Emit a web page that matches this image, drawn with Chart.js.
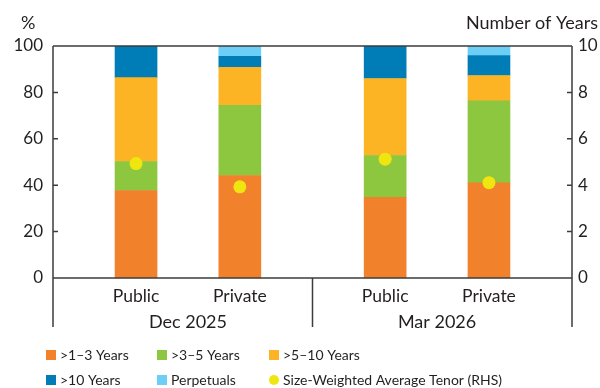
<!DOCTYPE html>
<html>
<head>
<meta charset="utf-8">
<script src="https://cdn.jsdelivr.net/npm/chart.js@4.4.1/dist/chart.umd.min.js"></script>
<style>
  html, body { margin: 0; padding: 0; background: #fff; }
  #wrap { position: relative; width: 600px; height: 388px; }
</style>
</head>
<body>
<div id="wrap"><canvas id="chart" width="600" height="388"></canvas></div>
<script>
// Bond tenor composition by sector, shares in percent
const sectors = ['Public', 'Private', 'Public', 'Private'];
const periods = ['Dec 2025', 'Mar 2026'];
const tenor1to3 = [37.7, 44.2, 34.8, 41.0];
const tenor3to5 = [12.5, 30.2, 18.0, 35.4];
const tenor5to10 = [36.2, 16.4, 33.2, 10.9];
const tenor10plus = [13.6, 4.7, 14.0, 8.6];
const perpetuals = [0, 4.5, 0, 4.1];
// Size-weighted average tenor, in years (right axis)
const avgTenor = [4.93, 3.93, 5.12, 4.11];
const leftTicks = [0, 20, 40, 60, 80, 100];
const rightTicks = [0, 2, 4, 6, 8, 10];

const FONT = 'Lato, "Noto Sans", sans-serif';
const TEXT = '#231f20';
const AXIS = '#3c3c3c';

// Each period occupies one unit on the x scale; its two bars sit 0.4 apart,
// nudged slightly toward the divider between periods.
const PAIR_GAP = 0.4;
const NUDGE = 0.02;
const pairCentre = p => p + 0.5 + (p === 0 ? NUDGE : -NUDGE);
const xOf = i => pairCentre(Math.floor(i / 2)) + (i % 2 === 0 ? -PAIR_GAP / 2 : PAIR_GAP / 2);
const pts = arr => arr.map((v, i) => ({ x: xOf(i), y: v }));

const barSet = (label, values, color) => ({
  type: 'bar', label, data: pts(values), backgroundColor: color,
  barThickness: 42, borderWidth: 0, yAxisID: 'y', order: 1
});

const framePlugin = {
  id: 'frame',
  afterDatasetsDraw(chart) {
    const { ctx, chartArea: a, scales } = chart;
    const yL = scales.y, yR = scales.y2, x = scales.x;
    const lowest = a.bottom + 49;
    ctx.save();
    ctx.strokeStyle = AXIS;
    ctx.lineWidth = 1.5;
    ctx.beginPath();
    // plot box top and baseline
    ctx.moveTo(a.left, a.top); ctx.lineTo(a.right, a.top);
    ctx.moveTo(a.left, a.bottom); ctx.lineTo(a.right, a.bottom);
    // side axes run down past the category labels
    ctx.moveTo(a.left, a.top); ctx.lineTo(a.left, lowest);
    ctx.moveTo(a.right, a.top); ctx.lineTo(a.right, lowest);
    // divider between periods
    const div = x.getPixelForValue(1);
    ctx.moveTo(div, a.bottom); ctx.lineTo(div, lowest);
    // inward tick marks
    leftTicks.forEach(v => {
      const py = yL.getPixelForValue(v);
      ctx.moveTo(a.left, py); ctx.lineTo(a.left + 5, py);
    });
    rightTicks.forEach(v => {
      const py = yR.getPixelForValue(v);
      ctx.moveTo(a.right, py); ctx.lineTo(a.right - 5, py);
    });
    ctx.stroke();

    // period labels
    ctx.fillStyle = TEXT;
    ctx.font = '18px ' + FONT;
    ctx.textAlign = 'center';
    ctx.textBaseline = 'middle';
    periods.forEach((p, i) => {
      ctx.fillText(p, x.getPixelForValue(pairCentre(i)), a.bottom + 44);
    });

    // axis titles
    ctx.textAlign = 'left';
    ctx.fillText('%', 21, 23);
    ctx.textAlign = 'right';
    ctx.fillText('Number of Years', 598, 23);

    // legend in three columns
    const cols = [46, 157, 269];
    const rows = [355, 380];
    ctx.font = '14px ' + FONT;
    ctx.textAlign = 'left';
    chart.data.datasets.forEach((ds, i) => {
      const cx = cols[i % 3], cy = rows[Math.floor(i / 3)];
      ctx.fillStyle = ds.backgroundColor;
      if (ds.type === 'bar') {
        ctx.fillRect(cx, cy - 5, 10, 10);
      } else {
        ctx.beginPath();
        ctx.arc(cx + 5, cy, 5, 0, Math.PI * 2);
        ctx.fill();
      }
      ctx.fillStyle = TEXT;
      ctx.fillText(ds.label, cx + 14, cy);
    });
    ctx.restore();
  }
};

new Chart(document.getElementById('chart'), {
  type: 'bar',
  data: {
    datasets: [
      barSet('>1–3 Years', tenor1to3, '#f2812b'),
      barSet('>3–5 Years', tenor3to5, '#8dc63f'),
      barSet('>5–10 Years', tenor5to10, '#fcb424'),
      barSet('>10 Years', tenor10plus, '#007cb7'),
      barSet('Perpetuals', perpetuals, '#6dcff6'),
      {
        type: 'scatter', label: 'Size-Weighted Average Tenor (RHS)',
        data: pts(avgTenor), yAxisID: 'y2', order: 0,
        backgroundColor: '#f0e60f', borderWidth: 0,
        pointRadius: 6.5, pointHoverRadius: 6.5
      }
    ]
  },
  options: {
    responsive: false,
    animation: false,
    events: [],
    layout: { padding: { top: 46, left: 0, right: 0, bottom: 0 } },
    plugins: { legend: { display: false }, tooltip: { enabled: false } },
    scales: {
      x: {
        type: 'linear', min: 0, max: 2, stacked: true, offset: false,
        grid: { display: false, drawTicks: false, offset: false },
        border: { display: false },
        afterBuildTicks: s => { s.ticks = sectors.map((_, i) => ({ value: xOf(i) })); },
        ticks: {
          autoSkip: false, maxRotation: 0, padding: 8, color: TEXT,
          font: { family: FONT, size: 17.5 },
          callback: (v, i) => sectors[i]
        },
        afterFit: s => { s.height = 110; }
      },
      y: {
        position: 'left', min: 0, max: 100, stacked: true,
        grid: { display: false, drawTicks: false },
        border: { display: false },
        ticks: { stepSize: 20, padding: 10, color: TEXT, font: { family: FONT, size: 17 } },
        afterFit: s => { s.width = 53; }
      },
      y2: {
        position: 'right', min: 0, max: 10,
        grid: { display: false, drawTicks: false },
        border: { display: false },
        ticks: { stepSize: 2, padding: 6, color: TEXT, font: { family: FONT, size: 17 } },
        afterFit: s => { s.width = 28; }
      }
    }
  },
  plugins: [framePlugin]
});
</script>
</body>
</html>
